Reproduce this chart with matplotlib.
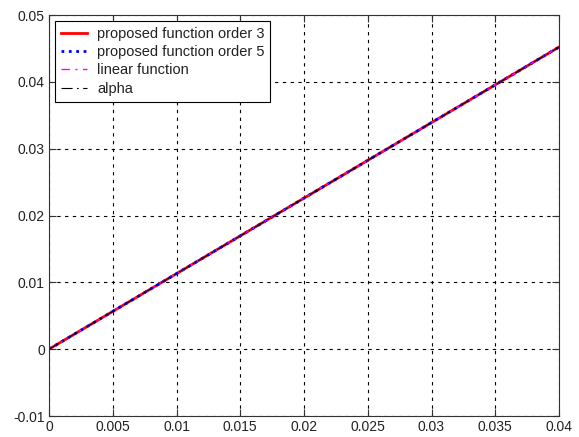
import matplotlib
matplotlib.use("Agg")
import matplotlib.pyplot as plt
import numpy as np

plt.rcParams['font.family'] = ['Liberation Sans', 'DejaVu Sans']

# values
x = [0, 0.005, 0.01, 0.015, 0.02, 0.025, 0.03, 0.035, 0.04]
alpha = [0, 0.00565, 0.0113, 0.01695, 0.0226, 0.02825, 0.0339, 0.03955, 0.0452]
order3 = [0, 0.00565, 0.0113, 0.01695, 0.0226, 0.02825, 0.0339, 0.03955, 0.0452]
order5 = [0, 0.00565, 0.0113, 0.01695, 0.0226, 0.02825, 0.0339, 0.03955, 0.0452]
linear = [0, 0.00565, 0.0113, 0.01695, 0.0226, 0.02825, 0.0339, 0.03955, 0.0452]

fig = plt.figure(figsize=(5.79, 4.37), dpi=100)
ax = fig.add_axes([49/579, 1 - 416/437, 510/579, 401/437])

ax.plot(x, order3, color='red', lw=2, label='proposed function order 3')
ax.plot(x, order5, color='blue', lw=2, ls=':', label='proposed function order 5')
ax.plot(x, linear, color='magenta', lw=1, ls=(0, (6, 4, 1.5, 4)), label='linear function')
ax.plot(x, alpha, color='black', lw=0.8, ls=(0, (10, 4, 1.5, 4)), label='alpha')

ax.set_xlim(0, 0.04)
ax.set_ylim(-0.01, 0.05)
ax.set_xticks([0, 0.005, 0.01, 0.015, 0.02, 0.025, 0.03, 0.035, 0.04])
ax.set_xticklabels(['0', '0.005', '0.01', '0.015', '0.02', '0.025', '0.03', '0.035', '0.04'])
ax.set_yticks([-0.01, 0, 0.01, 0.02, 0.03, 0.04, 0.05])
ax.set_yticklabels(['-0.01', '0', '0.01', '0.02', '0.03', '0.04', '0.05'])
ax.tick_params(direction='in', length=5, labelsize=10, top=True, right=True,
               colors='#333333', labelcolor='#222222', pad=3)
ax.grid(True, color='black', ls=(0, (3, 4)), lw=0.8)
for s in ax.spines.values():
    s.set_color('#333333')

leg = ax.legend(loc='upper left', fontsize=10.5, frameon=True, fancybox=False,
                edgecolor='black', framealpha=1, handlelength=1.8, handletextpad=0.7,
                labelspacing=0.3, borderaxespad=0.4, borderpad=0.4)
leg.get_frame().set_linewidth(0.8)
for t in leg.get_texts():
    t.set_color('#222222')

fig.savefig('out.png', dpi=100)
